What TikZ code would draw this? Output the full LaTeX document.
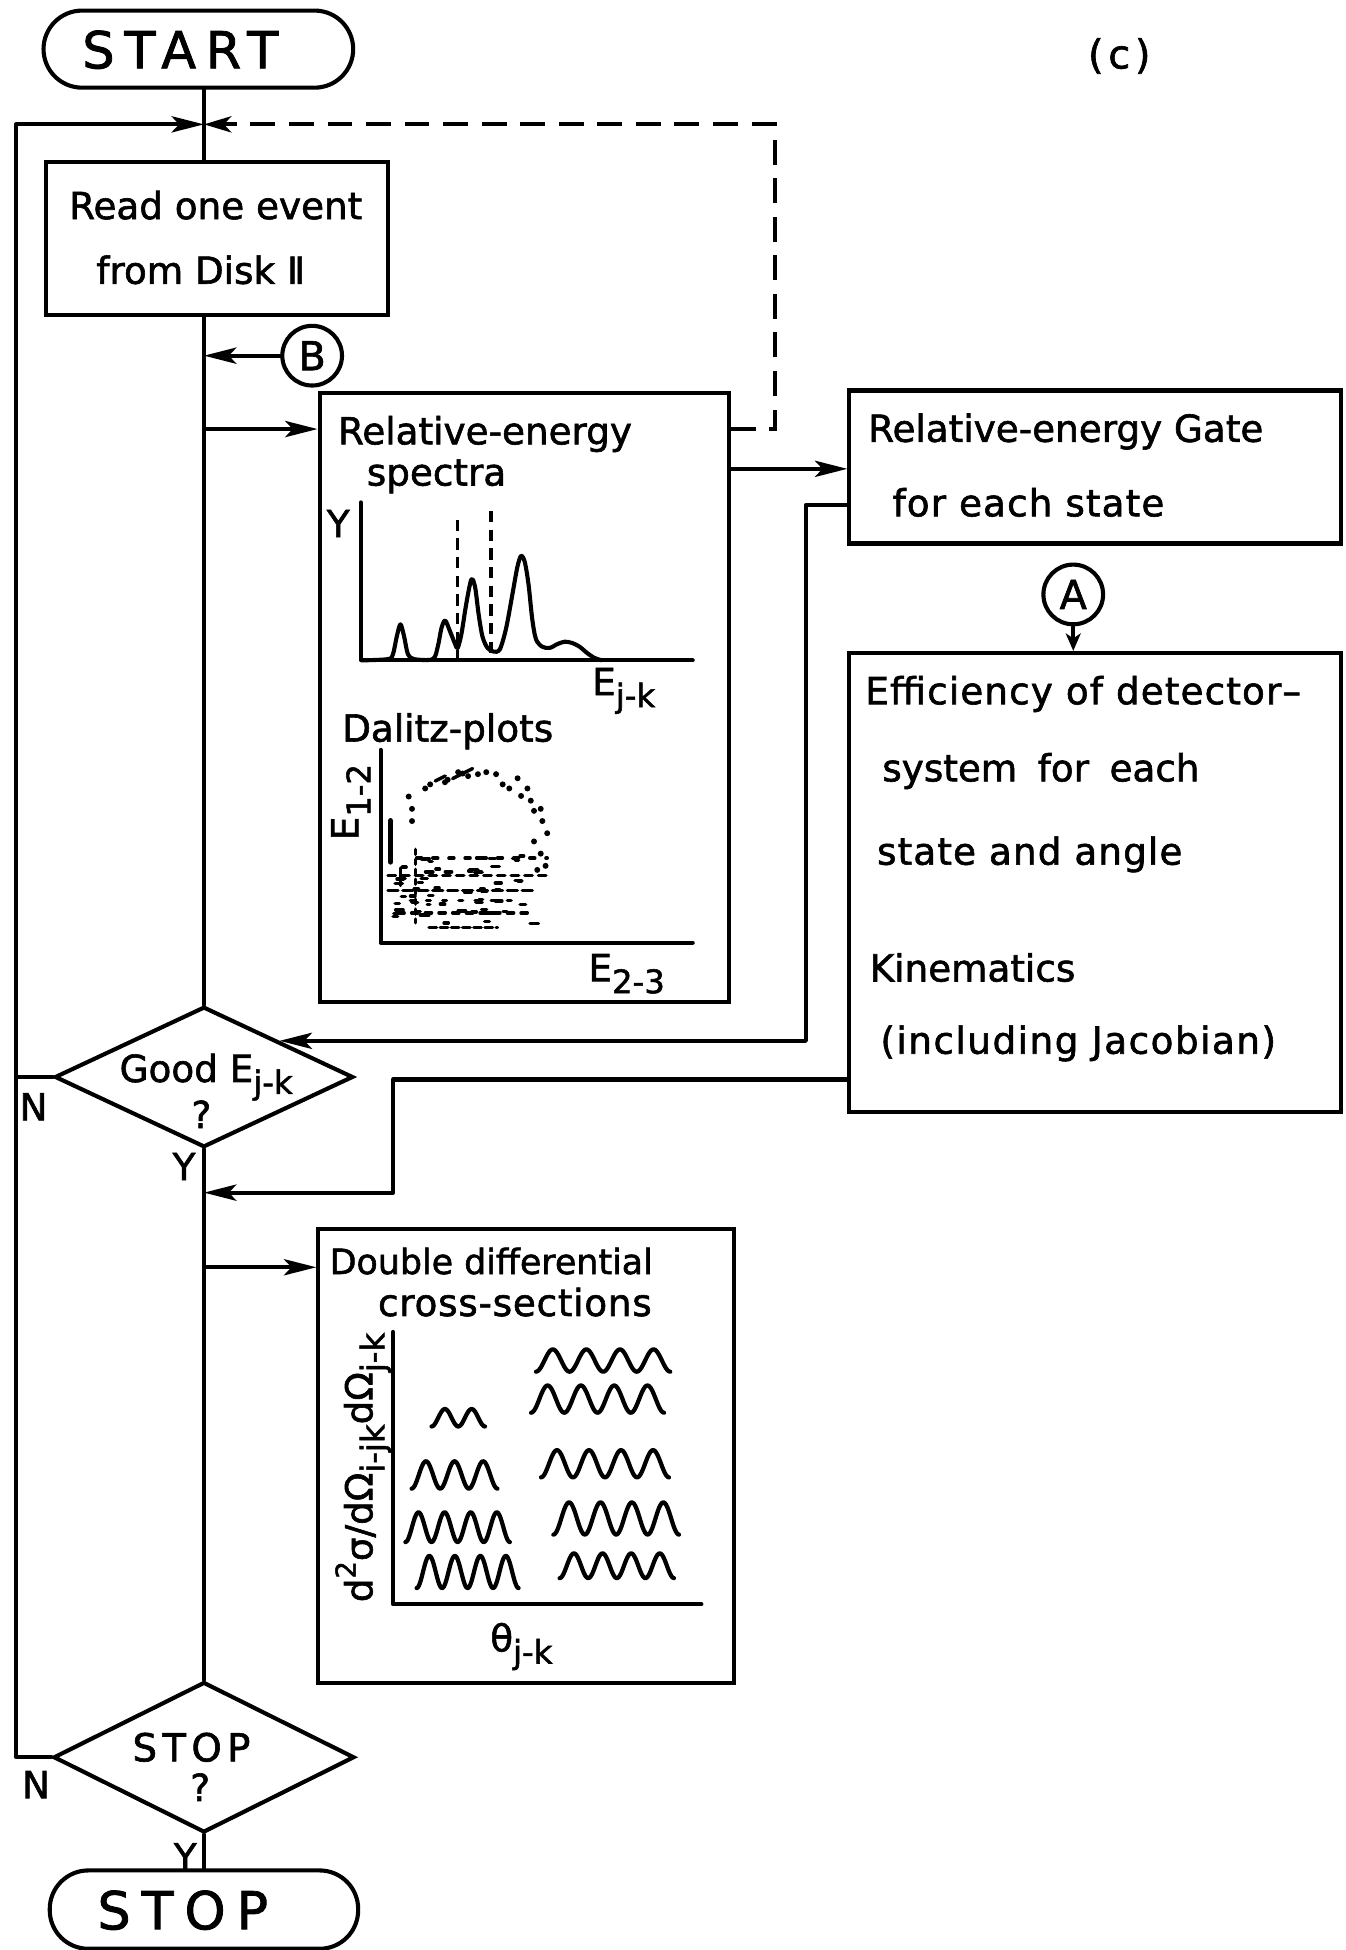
\documentclass[tikz,border=0pt]{standalone}
\usepackage{fontspec}
\setmainfont{DejaVu Sans}[FakeBold=1.6]
\usetikzlibrary{arrows.meta,shapes.geometric,calc}
\newcommand\fs[1]{\fontsize{#1}{#1}\selectfont}
\newcommand\sbx[1]{\raisebox{-0.32em}{\fontsize{26}{26}\selectfont #1}}
\newcommand\wv[5]{\draw[wave] plot[variable=\t, domain=0:1, samples=90, smooth] ({#1+(#2-#1)*\t},{#3+#4*cos(#5*360*\t)});}
\tikzset{
 ln/.style={line width=3.3pt, line cap=round, line join=round},
 arr/.style={ln, -{Stealth[length=26pt,width=13pt,inset=6pt]}},
 sarr/.style={ln, -{Stealth[length=14pt,width=12pt,inset=4pt]}},
 dsh/.style={line width=3.3pt, dash pattern=on 20pt off 11pt, -{Stealth[length=22pt,width=13pt,inset=6pt]}},
 box/.style={draw, line width=3.3pt, rectangle, inner sep=0pt},
 term/.style={draw, line width=3.3pt, rounded corners=31pt, inner sep=0pt},
 dia/.style={draw, line width=3.3pt, diamond, inner sep=0pt},
 txt/.style={inner sep=0pt, font=\fs{30}},
 circ/.style={draw, circle, line width=3.3pt, minimum size=48pt, inner sep=0pt, font=\fs{32}},
 wave/.style={line width=3.4pt, line cap=round, line join=round},
 dots/.style={line width=2.8pt, line cap=round},
}
\begin{document}
\begin{tikzpicture}[x=1pt,y=-1pt]
\useasboundingbox (0,0) rectangle (1082,1568);

% ---------- nodes ----------
\node[term, minimum width=249pt, minimum height=62pt] (start) at (159.5,39.5) {};
\node[txt, font=\fs{41}\addfontfeature{LetterSpace=19}] (starttxt) at (145,40) {START};
\node[txt, font=\fs{32}\addfontfeature{LetterSpace=12}] (clabel) at (900,45) {(c)};

\node[box, minimum width=275pt, minimum height=123pt] (rd) at (174.5,191.5) {};
\node[txt] (rd1) at (173.5,165) {Read one event};
\node[txt] (rd2) at (161.5,217) {from Disk Ⅱ};

\node[circ] (B) at (251,286) {B};

\node[box, minimum width=329pt, minimum height=490pt] (rel) at (421.5,561) {};
\node[txt] (rel1) at (390,349) {Relative-energy};
\node[txt] (rel2) at (351,383) {spectra};
\node[txt] (yl) at (272,421) {Y};
\node[txt, anchor=base west] (ejk) at (476,559) {E\sbx{j-k}};
\node[txt] (dal) at (360,588) {Dalitz-plots};
\node[txt, rotate=90] (e12) at (282,645) {E\sbx{1-2}};
\node[txt, anchor=base west] (e23) at (473,789) {E\sbx{2-3}};

\node[box, minimum width=395pt, minimum height=123pt] (gate) at (880.5,375.5) {};
\node[txt] (gate1) at (857,347) {Relative-energy Gate};
\node[txt, font=\fs{30}\addfontfeature{LetterSpace=3}] (gate2) at (827,404) {for each state};

\node[circ] (A) at (863,478) {A};

\node[box, minimum width=395pt, minimum height=369pt] (eff) at (880.5,709.5) {};
\node[txt, font=\fs{30}\addfontfeature{LetterSpace=3}] (eff1) at (871,558) {Efficiency of detector–};
\node[txt] (eff2) at (837,620) {system\hspace{0.55em}for\hspace{0.55em}each};
\node[txt, font=\fs{30}\addfontfeature{LetterSpace=3}] (eff3) at (828,687) {state and angle};
\node[txt] (eff4) at (782,778) {Kinematics};
\node[txt, font=\fs{30}\addfontfeature{LetterSpace=4}] (eff5) at (867,839) {(including Jacobian)};

\node[dia, minimum width=240pt, minimum height=113pt] (good) at (164,866) {};
\node[txt, anchor=base west] (good1) at (96,870) {Good E\sbx{j-k}};
\node[txt] (good2) at (162,896) {?};
\node[txt] (n1) at (27,890) {N};
\node[txt] (y1) at (148,938) {Y};

\node[box, minimum width=334pt, minimum height=365pt] (ddcs) at (423,1170.5) {};
\node[txt, font=\fs{28}] (dd1) at (395,1014) {Double differential};
\node[txt, font=\fs{30}\addfontfeature{LetterSpace=2}] (dd2) at (414,1047) {cross-sections};
\node[txt, font=\fs{30}, rotate=90] (ddy) at (292,1180) {d\raisebox{0.45em}{\fs{22}2}σ/dΩ\sbx{i-jk}dΩ\sbx{j-k}};
\node[txt, anchor=base west] (theta) at (394,1328) {θ\sbx{j-k}};

\node[dia, minimum width=242pt, minimum height=121pt] (sd) at (164,1413) {};
\node[txt, font=\fs{31}\addfontfeature{LetterSpace=14}] (sd1) at (154,1405) {STOP};
\node[txt] (sd2) at (161,1437) {?};
\node[txt] (n2) at (29,1435) {N};
\node[txt] (y2) at (149,1493) {Y};

\node[term, minimum width=248pt, minimum height=63pt] (stopt) at (164,1535.5) {};
\node[txt, font=\fs{42}\addfontfeature{LetterSpace=21}] (stoptxt) at (147,1536) {STOP};

% ---------- coordinates ----------
\coordinate (j1) at (164,100);
\coordinate (lx) at (13,100);
\coordinate (r1) at (164,345);
\coordinate (r2) at (164,1019);
\coordinate (ga) at (0,377);
\coordinate (g1) at (648,406);
\coordinate (e1) at (316,868);
\coordinate (e2) at (164,959);
\coordinate (dx) at (623,100);

% ---------- connectors ----------
\draw[ln] (start.south -| j1) -- (rd.north -| j1);
\draw[ln] (rd.south -| j1) -- (good.north);
\draw[arr] (good.west) -- (good.west -| lx) -- (lx) -- (j1);
\draw[ln] (sd.west) -| (good.west -| lx);
\draw[ln] (good.south) -- (sd.north);
\draw[ln] (sd.south) -- (stopt.north);
\draw[arr] (B) -- (B -| j1);
\draw[arr] (r1) -- (r1 -| rel.west);
\draw[arr] (rel.east |- ga) -- (gate.west |- ga);
\draw[arr] (gate.west |- g1) -- (g1) |- (good.north east);
\draw[arr] (eff.west |- e1) -- (e1) |- (e2);
\draw[sarr] (A) -- (A |- eff.north);
\draw[arr] (r2) -- (r2 -| ddcs.west);
\draw[dsh] (rel.east |- r1) -| (dx) -- (j1);

% ---------- spectrum ----------
\draw[ln] (290,404) -- (290,531) -- (557,531);
\draw[line width=2.8pt, dash pattern=on 9pt off 6pt] (368,418) -- (368,531);
\draw[line width=2.8pt, dash pattern=on 9pt off 6pt] (395,411) -- (395,531);
\draw[line width=3.3pt, line join=round] plot[smooth, tension=0.5] coordinates {
 (290,531) (312,530) (316,526) (319,512) (322,502) (325,512) (328,526) (333,530)
 (348,530) (352,520) (355,505) (358,499) (362,508) (366,518) (368,521) (371,510)
 (375,485) (379,466) (382,472) (385,495) (388,512) (392,521) (397,524) (402,522)
 (407,505) (412,478) (416,456) (419,447) (422,452) (425,470) (428,498) (431,514)
 (436,520) (442,521) (448,518) (454,516) (460,517) (466,520) (472,525) (478,529) (484,531)};

% ---------- Dalitz plot ----------
\draw[ln] (306,603) -- (306,758) -- (557,758);
\foreach \px/\py in {328.6/640.5, 331.3/650.4, 331.3/660.2, 341.9/634, 345.9/630.7, 357.8/629,
 368.4/620.9, 376.4/624.1, 384.3/622.5, 391/620.9, 398.9/622.5, 404.2/630.7, 409.5/634,
 416.2/625.8, 424.1/634, 426.8/643.8, 429.4/652, 434.8/650.4, 436.1/660.2, 440/670,
 429.4/676.6, 434.8/686.4, 438.7/696.2, 432/699.5, 360/627, 372/622, 419/640}
 \fill (\px,\py) circle (2.4pt);
\draw[dots] (350,628) -- (358,624);
\draw[dots] (364,626) -- (380,618);
\draw[line width=4.5pt, line cap=round] (314,660) -- (314,693);
\draw[dots, dash pattern=on 4pt off 4pt] (334,683) -- (334,742);
\draw[dots, dash pattern=on 4pt off 9pt] (335,690) -- (440,690);
\draw[dots, dash pattern=on 6pt off 5pt] (312,704) -- (440,704);
\draw[dots, dash pattern=on 8pt off 4pt] (312,716) -- (430,716);
\draw[dots, dash pattern=on 3pt off 10pt] (330,724) -- (420,724);
\draw[dots, dash pattern=on 5pt off 6pt] (320,734) -- (425,734);
\draw[dots, dash pattern=on 6pt off 3pt] (345,746) -- (400,746);
\draw[dots] (322,698) -- (322,712);
\pgfmathsetseed{11}
\foreach \i in {1,...,55}{
 \pgfmathsetmacro{\qx}{316+112*rnd}
 \pgfmathsetmacro{\qy}{688+56*rnd}
 \pgfmathsetmacro{\ql}{2+5*rnd}
 \draw[dots] (\qx,\qy) -- ++(\ql,0);
}

% ---------- cross sections ----------
\draw[ln] (316,1071) -- (316,1290) -- (564,1290);
\wv{431}{539}{1094}{9}{4}
\wv{427}{534}{1125}{11}{4}
\wv{347}{390}{1140}{7}{2}
\wv{435}{538}{1177}{11}{4}
\wv{331}{400}{1186}{11}{3}
\wv{445}{546}{1221}{13}{4}
\wv{326}{410}{1228}{12}{4}
\wv{450}{542}{1259}{10}{4}
\wv{335}{417}{1264}{13}{4}
\end{tikzpicture}
\end{document}
